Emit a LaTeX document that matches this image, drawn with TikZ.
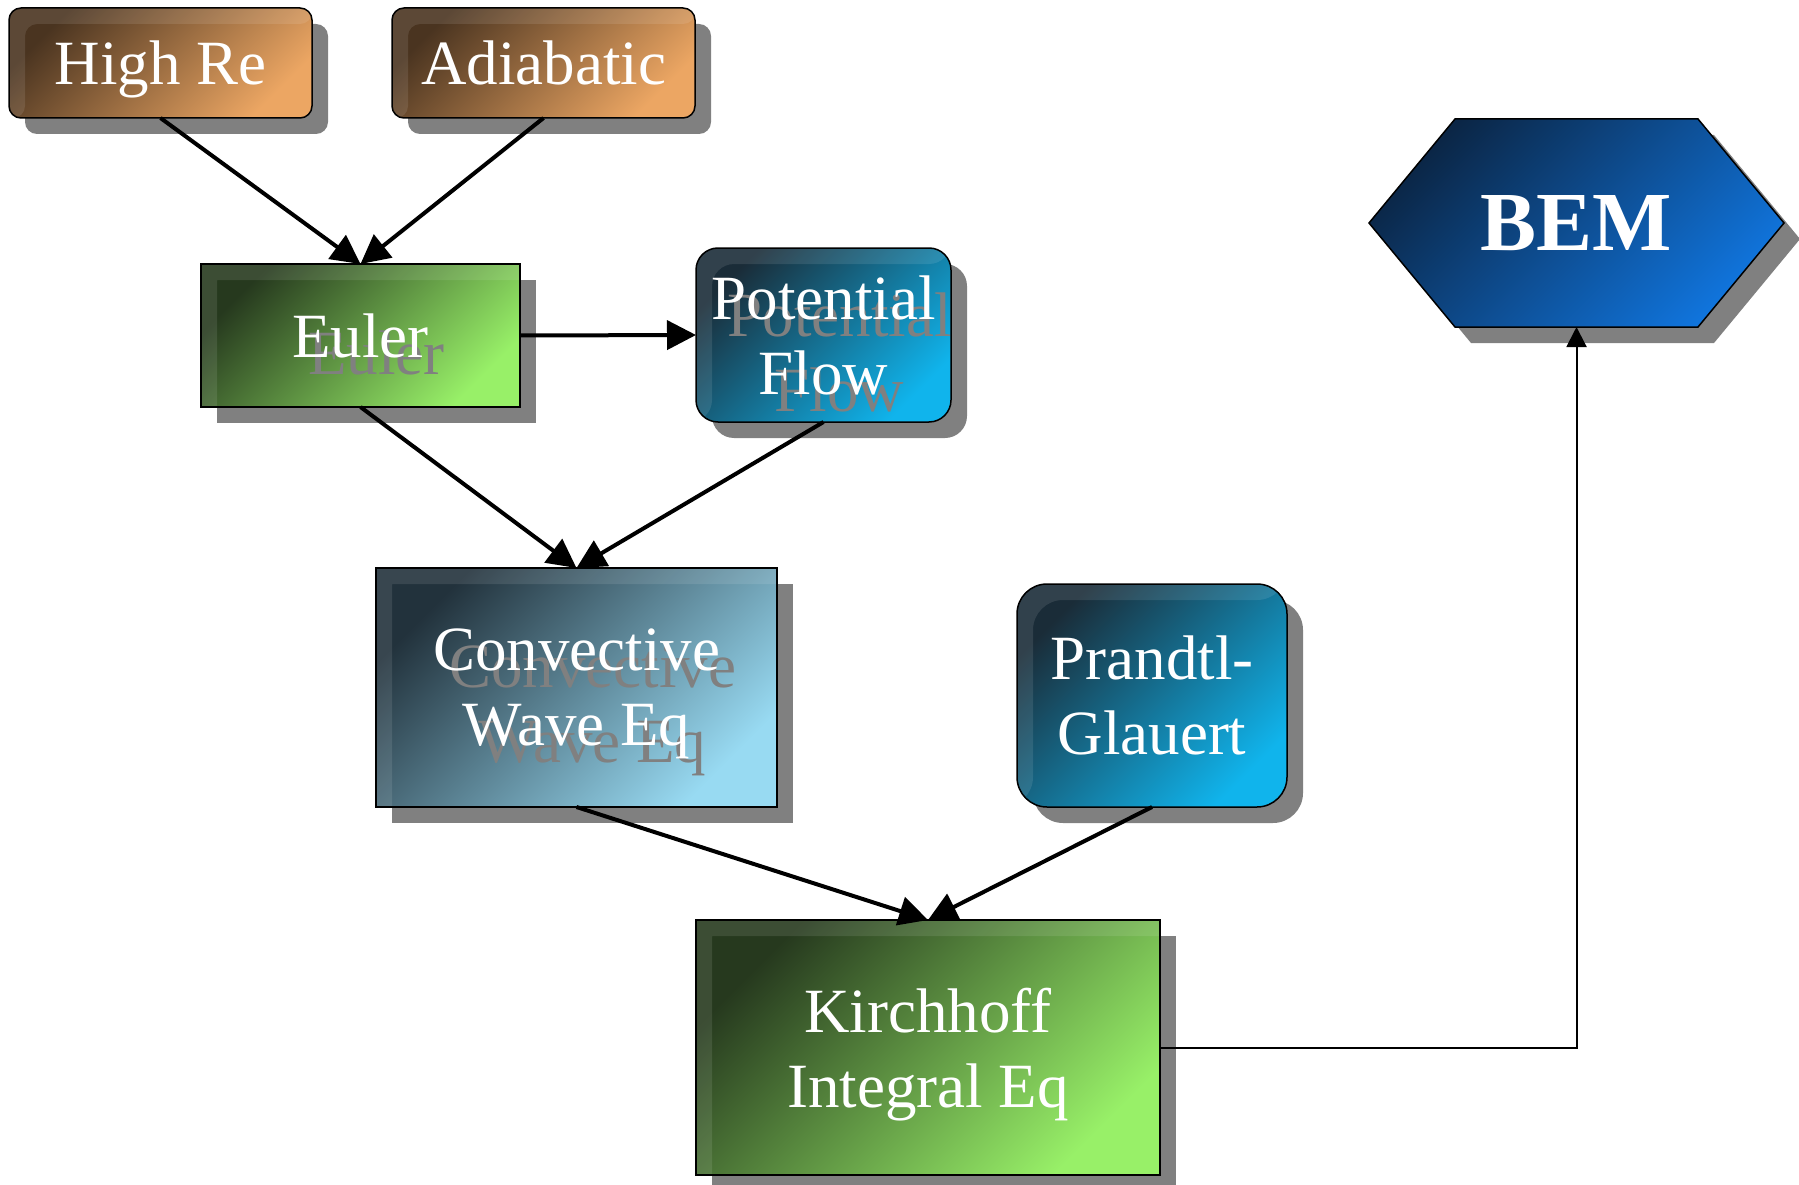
\documentclass[tikz,border=0pt]{standalone}
\usepackage{fontspec}
\setmainfont{Liberation Serif}
\usetikzlibrary{shadows,arrows.meta,backgrounds}
\definecolor{shadowgray}{HTML}{808080}
\definecolor{brownA}{HTML}{4A3420}
\definecolor{brownB}{HTML}{B07A48}
\definecolor{brownC}{HTML}{ECA663}
\definecolor{greenA}{HTML}{26391E}
\definecolor{greenB}{HTML}{5E9A46}
\definecolor{greenC}{HTML}{98F068}
\definecolor{tealA}{HTML}{1A2C38}
\definecolor{tealB}{HTML}{1478A8}
\definecolor{tealC}{HTML}{10B4EC}
\definecolor{paleA}{HTML}{22323C}
\definecolor{paleB}{HTML}{5C8EA6}
\definecolor{paleC}{HTML}{98DAF2}
\definecolor{navyA}{HTML}{0B2646}
\definecolor{navyB}{HTML}{0D4F94}
\definecolor{navyC}{HTML}{1074DC}
\newcommand\mybevel{\fill[white,opacity=0.10] (path picture bounding box.north west) -- (path picture bounding box.north east) -- ([yshift=-16pt]path picture bounding box.north east) -- ([shift={(16pt,-16pt)}]path picture bounding box.north west) -- ([xshift=16pt]path picture bounding box.south west) -- (path picture bounding box.south west) -- cycle;}
\begin{document}
\begin{tikzpicture}[x=1pt,y=-1pt,
  every node/.style={inner sep=0pt,outer sep=0pt},
  lbl/.style={font=\fontsize{63}{75}\selectfont,text=white,align=center,text depth=0pt},
  ghosttext/.style={font=\fontsize{63}{75}\selectfont,text=shadowgray,align=center,inner sep=0pt,text depth=0pt},
  shad/.style={drop shadow={shadow xshift=16pt,shadow yshift=-16pt,fill=shadowgray,opacity=1}},
  grad/.style n args={3}{top color=#1,middle color=#2,bottom color=#3,shading angle=45},
  box/.style={lbl,draw=black,line width=1.5pt,shad,path picture={\mybevel}},
  ghostbox/.style={box,path picture={\mybevel\node[ghosttext] at ([shift={(16pt,-17pt)}]path picture bounding box.center) {#1};}},
  brownbox/.style={box,rounded corners=12pt,grad={brownA}{brownB}{brownC}},
  conn/.style={line width=4pt,-{Triangle[length=29pt,width=29pt]}},
  thinconn/.style={line width=2pt,-{Triangle[length=20pt,width=20pt]}}]
\useasboundingbox (0,0) rectangle (1799,1185);
\clip (0,0) rectangle (1799,1185);

\node[brownbox,minimum width=303pt,minimum height=110pt] (hre) at (160.5,63) {High Re};
\node[brownbox,minimum width=303pt,minimum height=110pt] (adi) at (543.5,63) {Adiabatic};
\node[ghostbox={Euler},grad={greenA}{greenB}{greenC},minimum width=319pt,minimum height=143pt] (euler) at (360.5,335.5) {Euler};
\node[ghostbox={Potential\\Flow},rounded corners=22pt,grad={tealA}{tealB}{tealC},minimum width=255pt,minimum height=174pt] (pot) at (823.5,335) {Potential\\Flow};
\node[ghostbox={Convective\\Wave Eq},grad={paleA}{paleB}{paleC},minimum width=401pt,minimum height=239pt] (conv) at (576.5,687.5) {Convective\\Wave Eq};
\node[box,rounded corners=30pt,grad={tealA}{tealB}{tealC},minimum width=270pt,minimum height=223pt] (pg) at (1152,695.5) {Prandtl-\\Glauert};
\node[box,grad={greenA}{greenB}{greenC},minimum width=464pt,minimum height=255pt] (kirch) at (928,1047.5) {Kirchhoff\\Integral Eq};
\node[minimum width=415pt,minimum height=208pt,font=\fontsize{84}{90}\selectfont\bfseries,text=white] (bem) at (1576.5,223) {BEM};
\begin{scope}[on background layer]
\path[draw=black,line width=1.5pt,grad={navyA}{navyB}{navyC},shad]
  (bem.west) -- ([xshift=86pt]bem.north west) -- ([xshift=-86pt]bem.north east) -- (bem.east) -- ([xshift=-86pt]bem.south east) -- ([xshift=86pt]bem.south west) -- cycle;
\end{scope}

\draw[conn] (hre.south) -- (euler.north);
\draw[conn] (adi.south) -- (euler.north);
\draw[conn] (euler.east) -- (pot.west);
\draw[conn] (euler.south) -- (conv.north);
\draw[conn] (pot.south) -- (conv.north);
\draw[conn] (conv.south) -- (kirch.north);
\draw[conn] (pg.south) -- (kirch.north);
\draw[thinconn] (kirch.east) -| (bem.south);
\end{tikzpicture}
\end{document}
